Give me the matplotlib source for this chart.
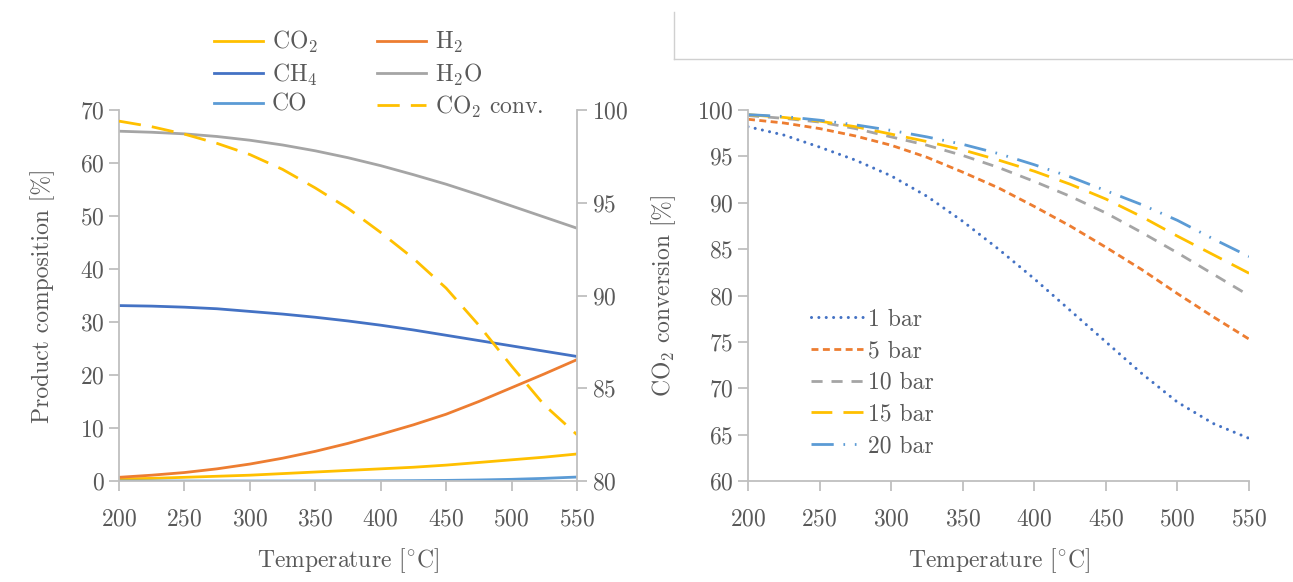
import matplotlib
matplotlib.use("Agg")
import matplotlib.pyplot as plt
from matplotlib.lines import Line2D

plt.rcParams['font.family'] = ['cmr10', 'DejaVu Serif']
plt.rcParams['mathtext.fontset'] = 'cm'
plt.rcParams['axes.formatter.use_mathtext'] = True
plt.rcParams['axes.unicode_minus'] = False

# temperature [C]
temp = [200, 225, 250, 275, 300, 325, 350, 375, 400, 425, 450, 475, 500, 525, 550]

# left panel: product composition [%]
co2 = [0.4, 0.5, 0.7, 0.9, 1.1, 1.4, 1.7, 2.0, 2.3, 2.6, 3.0, 3.5, 4.0, 4.5, 5.1]
h2 = [0.7, 1.1, 1.6, 2.3, 3.2, 4.3, 5.6, 7.1, 8.8, 10.6, 12.6, 15.0, 17.6, 20.2, 22.9]
ch4 = [33.1, 33.0, 32.8, 32.5, 32.0, 31.5, 30.9, 30.2, 29.4, 28.5, 27.5, 26.5, 25.5, 24.5, 23.5]
h2o = [66.0, 65.8, 65.5, 65.0, 64.3, 63.4, 62.3, 61.0, 59.5, 57.8, 56.0, 54.0, 51.9, 49.8, 47.7]
co = [0.0, 0.0, 0.0, 0.0, 0.0, 0.0, 0.01, 0.02, 0.04, 0.07, 0.12, 0.2, 0.32, 0.5, 0.75]
co2_conv = [99.4, 99.1, 98.7, 98.2, 97.6, 96.8, 95.8, 94.7, 93.4, 92.0, 90.4, 88.4, 86.2, 84.1, 82.5]

# right panel: CO2 conversion [%] by pressure
conv_1 = [98.2, 97.3, 96.0, 94.6, 92.9, 90.7, 88.0, 85.0, 81.8, 78.4, 75.0, 71.6, 68.5, 66.2, 64.6]
conv_5 = [99.0, 98.6, 98.0, 97.2, 96.2, 94.9, 93.3, 91.6, 89.6, 87.5, 85.2, 82.8, 80.2, 77.7, 75.3]
conv_10 = [99.4, 99.1, 98.7, 98.0, 97.1, 96.2, 95.1, 93.8, 92.3, 90.7, 88.9, 86.8, 84.6, 82.3, 80.0]
conv_15 = [99.5, 99.2, 98.8, 98.2, 97.4, 96.6, 95.7, 94.6, 93.4, 92.0, 90.4, 88.5, 86.4, 84.4, 82.4]
conv_20 = [99.5, 99.3, 98.9, 98.4, 97.8, 97.1, 96.3, 95.3, 94.1, 92.8, 91.3, 89.8, 88.1, 86.1, 84.2]
pressures = ['1 bar', '5 bar', '10 bar', '15 bar', '20 bar']

txt = '#595959'
axc = '#BFBFBF'
yellow, orange, blue, gray, lblue = '#FFC000', '#ED7D31', '#4472C4', '#A5A5A5', '#5B9BD5'
fs = 17

fig = plt.figure(figsize=(12.93, 5.82), dpi=100)

def style(ax, sides):
    for s in ['top', 'right', 'left', 'bottom']:
        ax.spines[s].set_visible(s in sides)
        ax.spines[s].set_color(axc)
        ax.spines[s].set_linewidth(1.3)
    ax.tick_params(colors=axc, labelcolor=txt, labelsize=fs, length=7, width=1.3)
    ax.tick_params(axis='x', pad=13)

# ---- left panel
ax1 = fig.add_axes([0.092, 0.1735, 0.3542, 0.6375])
ax2 = ax1.twinx()
l_co2, = ax1.plot(temp, co2, color=yellow, lw=2)
l_h2, = ax1.plot(temp, h2, color=orange, lw=2)
l_ch4, = ax1.plot(temp, ch4, color=blue, lw=2)
l_h2o, = ax1.plot(temp, h2o, color=gray, lw=2)
l_co, = ax1.plot(temp, co, color=lblue, lw=2)
l_conv, = ax2.plot(temp, co2_conv, color=yellow, lw=2, dashes=(8, 4))
ax1.set_xlim(200, 550)
ax1.set_ylim(0, 70)
ax2.set_ylim(80, 100)
ax1.set_xticks(range(200, 551, 50))
ax1.set_yticks(range(0, 71, 10))
ax2.set_yticks(range(80, 101, 5))
style(ax1, ['left', 'bottom'])
style(ax2, ['right'])
ax1.set_xlabel(r'Temperature [$^{\circ}$C]', fontsize=fs, color=txt, labelpad=11)
ax1.set_ylabel('Product composition [%]', fontsize=fs, color=txt, labelpad=18)

fig.legend([l_co2, l_ch4, l_co, l_h2, l_h2o, l_conv],
           [r'CO$_2$', r'CH$_4$', 'CO', r'H$_2$', r'H$_2$O', r'CO$_2$ conv.'],
           ncol=2, loc='upper left', bbox_to_anchor=(0.149, 0.986), frameon=False,
           fontsize=fs, labelcolor=txt, handlelength=2.1, handletextpad=0.35,
           columnspacing=2.5, labelspacing=0.26)

# ---- right panel
ax3 = fig.add_axes([0.5785, 0.1735, 0.3875, 0.6375])
ax3.plot(temp, conv_1, color=blue, lw=2.2, dashes=(0.01, 2.4), dash_capstyle='round', label=pressures[0])
ax3.plot(temp, conv_5, color=orange, lw=2, dashes=(2.5, 1.6), label=pressures[1])
ax3.plot(temp, conv_10, color=gray, lw=2, dashes=(4, 3.2), label=pressures[2])
ax3.plot(temp, conv_15, color=yellow, lw=2, dashes=(7.5, 4), label=pressures[3])
ax3.plot(temp, conv_20, color=lblue, lw=2, dashes=(8, 3.5, 0.6, 3.5, 0.6, 3.5), label=pressures[4])
ax3.set_xlim(200, 550)
ax3.set_ylim(60, 100)
ax3.set_xticks(range(200, 551, 50))
ax3.set_yticks(range(60, 101, 5))
style(ax3, ['left', 'bottom'])
ax3.set_xlabel(r'Temperature [$^{\circ}$C]', fontsize=fs, color=txt, labelpad=11)
ax3.set_ylabel(r'CO$_2$ conversion [%]', fontsize=fs, color=txt, labelpad=14)
ax3.legend(loc='upper left', bbox_to_anchor=(0.084, 0.522), frameon=False, fontsize=fs,
           labelcolor=txt, handlelength=2.2, handletextpad=0.2, labelspacing=0.4)

# frame remnant in the top right
fig.add_artist(Line2D([674 / 1293, 674 / 1293], [1 - 12 / 582, 1 - 59 / 582], color='#D0D0D0', lw=1))
fig.add_artist(Line2D([674 / 1293, 1.0], [1 - 59 / 582, 1 - 59 / 582], color='#D0D0D0', lw=1))

fig.savefig('out.png', dpi=100, facecolor='white')
